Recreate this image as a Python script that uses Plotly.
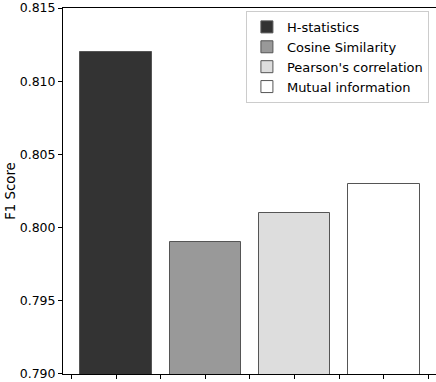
import plotly.graph_objects as go

methods = ["H-statistics", "Cosine Similarity", "Pearson's correlation", "Mutual information"]
f1_scores = [0.812, 0.799, 0.801, 0.803]
bar_colors = ["#333333", "#999999", "#dddddd", "#ffffff"]
positions = [0, 1, 2, 3]
y_ticks = [0.790, 0.795, 0.800, 0.805, 0.810, 0.815]
x_ticks = [-0.5, 0, 0.5, 1, 1.5, 2, 2.5, 3, 3.5]

fig = go.Figure()
for pos, name, val, col in zip(positions, methods, f1_scores, bar_colors):
    fig.add_trace(go.Bar(
        x=[pos], y=[val], name=name, width=0.8,
        marker=dict(color=col, line=dict(color="#555555", width=1)),
    ))

fig.update_layout(
    width=436, height=382,
    margin=dict(l=63, r=0, t=8, b=8),
    paper_bgcolor="white", plot_bgcolor="white",
    font=dict(family="DejaVu Sans", size=12.5, color="black"),
    showlegend=True,
    legend=dict(
        x=0.981, y=0.992, xanchor="right", yanchor="top",
        bgcolor="rgba(255,255,255,0.8)", bordercolor="#cccccc", borderwidth=1,
        font=dict(size=13), tracegroupgap=0,
    ),
    bargap=0,
)

fig.update_xaxes(
    range=[-0.5935, 3.583], tickvals=x_ticks, showticklabels=False,
    ticks="outside", ticklen=4, tickcolor="black", tickwidth=1,
    showline=True, linecolor="black", linewidth=1, mirror=True,
    showgrid=False, zeroline=False,
)
fig.update_yaxes(
    range=[0.789999, 0.815001], tickvals=y_ticks, tickformat=".3f",
    ticks="outside", ticklen=4, tickcolor="black", tickwidth=1,
    showline=True, linecolor="black", linewidth=1, mirror=True,
    showgrid=False, zeroline=False, automargin=False,
    ticklabeloverflow="allow",
    title=dict(text="F1 Score", standoff=1, font=dict(size=13.3)),
)

# drop the page's default body margin so the figure sits at the window origin
fig.write_html("out.html", config={"displayModeBar": False},
               post_script="document.body.style.margin='0';")
